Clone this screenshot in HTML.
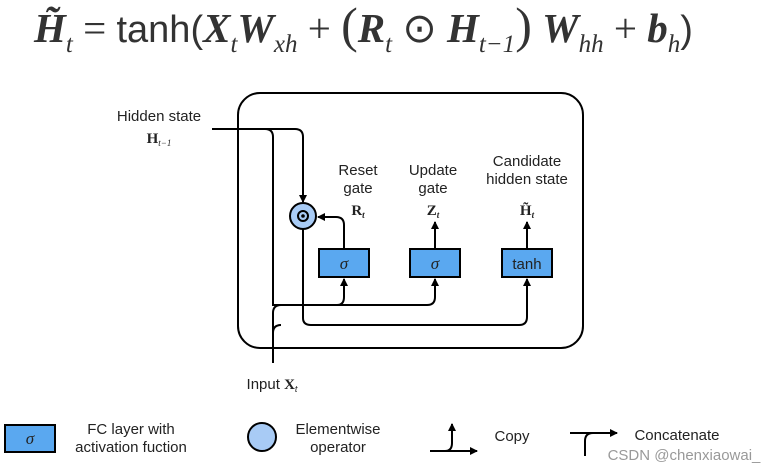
<!DOCTYPE html>
<html><head><style>
body{margin:0;width:780px;height:473px;background:#fff;overflow:hidden;position:relative;font-family:"Liberation Sans",sans-serif;}
.f{position:absolute;left:34px;top:-4px;font-family:"Liberation Serif",serif;font-size:41px;white-space:nowrap;color:#333;}
.f b{font-style:italic;}
.f sub{font-size:25px;font-style:italic;font-weight:normal;vertical-align:-10px;}
.f .s{font-family:"Liberation Sans",sans-serif;font-size:38px;}
</style></head><body>
<div class="f"><b>H̃</b><sub>t</sub> = <span class="s">tanh(</span><b>X</b><sub>t</sub><b>W</b><sub>xh</sub> + <span style="font-size:50px;font-weight:normal">(</span><b>R</b><sub>t</sub> ⊙ <b>H</b><sub>t−1</sub><span style="font-size:50px">)</span> <b>W</b><sub>hh</sub> + <b>b</b><sub>h</sub><span class="s">)</span></div>
<svg width="780" height="473" style="position:absolute;left:0;top:0" font-family="Liberation Sans, sans-serif">
<defs><marker id="a" markerWidth="8" markerHeight="8" refX="7" refY="4" orient="auto" markerUnits="userSpaceOnUse"><path d="M0,0 L8,4 L0,8 Z" fill="#000"/></marker></defs>
<g fill="none" stroke="#000" stroke-width="2">
<rect x="238" y="93" width="345" height="255" rx="22"/>
<path d="M212,129 H295 Q303,129 303,137 V202" marker-end="url(#a)"/>
<path d="M265,129 Q273,129 273,137 V305 H337 Q344,305 344,297 V279" marker-end="url(#a)"/>
<path d="M337,305 H427 Q435,305 435,297 V279" marker-end="url(#a)"/>
<path d="M303,229 V318 Q303,325 311,325 H519 Q527,325 527,317 V279" marker-end="url(#a)"/>
<path d="M273,363 V313 Q273,305 281,305"/>
<path d="M273,333 Q273,325 281,325"/>
<path d="M344,249 V225 Q344,217 336,217 H318" marker-end="url(#a)"/>
<path d="M435,249 V222" marker-end="url(#a)"/>
<path d="M527,249 V222" marker-end="url(#a)"/>
<path d="M430,451 H477" marker-end="url(#a)"/>
<path d="M445,451 Q452,451 452,443 V424" marker-end="url(#a)"/>
<path d="M570,433 H617" marker-end="url(#a)"/>
<path d="M585,456 V441 Q585,433 593,433"/>
</g>
<circle cx="303" cy="216" r="13" fill="#a8cbf5" stroke="#000" stroke-width="2"/>
<circle cx="303" cy="216" r="5" fill="none" stroke="#000" stroke-width="2"/>
<circle cx="303" cy="216" r="1.8" fill="#000"/>
<g fill="#5aa8f0" stroke="#000" stroke-width="2">
<rect x="319" y="249" width="50" height="28"/><rect x="410" y="249" width="50" height="28"/><rect x="502" y="249" width="50" height="28"/>
<rect x="5" y="425" width="50" height="27"/>
</g>
<circle cx="262" cy="437" r="14" fill="#a8cbf5" stroke="#000" stroke-width="2"/>
<g font-size="15" text-anchor="middle" fill="#222">
<text x="344" y="269" font-style="italic" font-family="Liberation Serif, serif" font-size="17">σ</text>
<text x="435" y="269" font-style="italic" font-family="Liberation Serif, serif" font-size="17">σ</text>
<text x="527" y="269">tanh</text>
<text x="30" y="444" font-style="italic" font-family="Liberation Serif, serif" font-size="17">σ</text>
<text x="159" y="121">Hidden state</text>
<text x="159" y="143" font-family="Liberation Serif, serif" font-weight="bold" font-size="15">H<tspan font-size="9" font-style="italic" font-weight="normal" dy="3">t−1</tspan></text>
<text x="358" y="175">Reset</text><text x="358" y="193">gate</text>
<text x="358" y="215" font-family="Liberation Serif, serif" font-weight="bold" font-size="15">R<tspan font-size="9" font-style="italic" dy="3">t</tspan></text>
<text x="433" y="175">Update</text><text x="433" y="193">gate</text>
<text x="433" y="215" font-family="Liberation Serif, serif" font-weight="bold" font-size="15">Z<tspan font-size="9" font-style="italic" dy="3">t</tspan></text>
<text x="527" y="166">Candidate</text><text x="527" y="184">hidden state</text>
<text x="527" y="215" font-family="Liberation Serif, serif" font-weight="bold" font-size="15">H̃<tspan font-size="9" font-style="italic" dy="3">t</tspan></text>
<text x="272" y="389">Input <tspan font-family="Liberation Serif, serif" font-weight="bold">X</tspan><tspan font-size="9" font-style="italic" dy="3">t</tspan></text>
<text x="131" y="434">FC layer with</text><text x="131" y="452">activation fuction</text>
<text x="338" y="434">Elementwise</text><text x="338" y="452">operator</text>
<text x="512" y="441">Copy</text>
<text x="677" y="440">Concatenate</text>
<text x="684" y="460" fill="#999" font-size="15">CSDN @chenxiaowai_</text>
</g>
</svg>
</body></html>
